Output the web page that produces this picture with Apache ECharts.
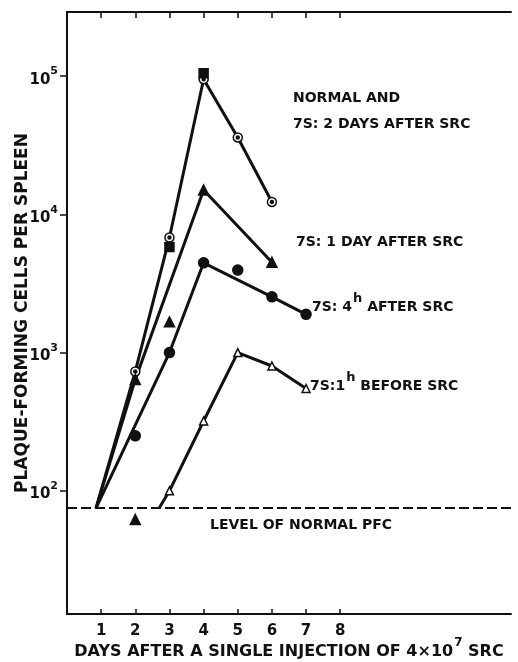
<!DOCTYPE html>
<html>
<head>
<meta charset="utf-8">
<script src="https://cdn.jsdelivr.net/npm/echarts@6/dist/echarts.min.js"></script>
<style>
  html, body { margin: 0; padding: 0; background: #fff; }
  #chart { width: 518px; height: 662px; }
</style>
</head>
<body>
<div id="chart"></div>
<script>
// values (days, plaque-forming cells per spleen)
const dayTicks = [1, 2, 3, 4, 5, 6, 7, 8];
const decadeTicks = [100, 1000, 10000, 100000];
const normalLevel = 75;

const days2d = [0.85, 2, 3, 4, 5, 6];
const vals2d = [75, 730, 6800, 95000, 36000, 12300];
const daysNormal = [3, 4];
const valsNormal = [5800, 105000];

const days1d = [0.85, 2, 4, 6];
const vals1d = [75, 640, 15000, 4500];
const days1dOff = [2, 3];
const vals1dOff = [62, 1670];

const days4h = [0.85, 3, 4, 6, 7];
const vals4h = [75, 1000, 4460, 2530, 1890];
const days4hOff = [2, 5];
const vals4hOff = [250, 3950];

const days1h = [2.7, 3, 4, 5, 6, 7];
const vals1h = [75, 100, 320, 1000, 800, 550];

const pts = (xs, ys) => xs.map((x, i) => ({
  value: [x, ys[i]],
  symbol: ys[i] === normalLevel ? "none" : undefined,
}));

const chart = echarts.init(document.getElementById("chart"));
const ink = "#111";
const font = "DejaVu Sans";

const lineSeries = (data, symbol, size, fill) => ({
  type: "line",
  data: data,
  symbol: symbol,
  symbolSize: size,
  showSymbol: true,
  lineStyle: { color: ink, width: 3 },
  itemStyle: { color: fill, borderColor: ink, borderWidth: 1.5, opacity: 1 },
  z: 3,
  animation: false,
});

const scatterSeries = (data, symbol, size, fill) => ({
  type: "scatter",
  data: data,
  symbol: symbol,
  symbolSize: size,
  itemStyle: { color: fill, borderColor: ink, borderWidth: 1.5, opacity: 1 },
  z: 4,
  animation: false,
});

const rich = {
  t: { fontSize: 14, fontWeight: "bold", fontFamily: font, fill: ink, verticalAlign: "bottom", lineHeight: 22 },
  s: { fontSize: 13, fontWeight: "bold", fontFamily: font, fill: ink, verticalAlign: "bottom", lineHeight: 22, padding: [0, 0, 9, 1] },
};

const labelText = (x, y, text) => ({
  type: "text",
  left: x,
  top: y,
  style: { text: text, rich: rich },
});

const option = {
  backgroundColor: "#fff",
  grid: { left: 67, right: 7, top: 12, bottom: 48, outerBoundsMode: "none", containLabel: false },
  xAxis: [
    {
      type: "value",
      min: 0,
      max: 13,
      position: "bottom",
      name: "{t|DAYS AFTER A SINGLE INJECTION OF 4×10}{s|7}{t| SRC}",
      nameLocation: "middle",
      nameGap: 24,
      nameMoveOverlap: false,
      nameTextStyle: {
        rich: {
          t: { fontSize: 16, fontWeight: "bold", fontFamily: font, color: ink, verticalAlign: "bottom", lineHeight: 22 },
          s: { fontSize: 12, fontWeight: "bold", fontFamily: font, color: ink, verticalAlign: "bottom", lineHeight: 22, padding: [0, 0, 11, 1] },
        },
      },
      axisLine: { lineStyle: { color: ink, width: 2 } },
      axisTick: { inside: true, length: 5, customValues: dayTicks, lineStyle: { color: ink, width: 1.5 } },
      axisLabel: { customValues: dayTicks, color: ink, fontSize: 15, fontWeight: "bold", fontFamily: font, margin: 10 },
      splitLine: { show: false },
    },
    {
      type: "value",
      min: 0,
      max: 13,
      position: "top",
      axisLine: { lineStyle: { color: ink, width: 2 } },
      axisTick: { inside: true, length: 6, customValues: dayTicks, lineStyle: { color: ink, width: 1.5 } },
      axisLabel: { show: false },
      splitLine: { show: false },
    },
  ],
  yAxis: [
    {
      type: "log",
      min: 12.85,
      max: 291000,
      position: "left",
      name: "PLAQUE-FORMING CELLS PER SPLEEN",
      nameLocation: "middle",
      nameRotate: 90,
      nameGap: 36,
      nameMoveOverlap: false,
      nameTextStyle: { color: ink, fontSize: 17, fontWeight: "bold", fontFamily: font },
      axisLine: { lineStyle: { color: ink, width: 2 } },
      axisTick: { inside: false, length: 7, customValues: decadeTicks, lineStyle: { color: ink, width: 1.5 } },
      axisLabel: {
        customValues: decadeTicks,
        margin: 9,
        formatter: (v) => "{b|10}{s|" + Math.round(Math.log10(v)) + "}",
        rich: {
          b: { fontSize: 15, fontWeight: "bold", fontFamily: font, color: ink, verticalAlign: "bottom", lineHeight: 22 },
          s: { fontSize: 11, fontWeight: "bold", fontFamily: font, color: ink, verticalAlign: "bottom", lineHeight: 22, padding: [0, 0, 10, 0] },
        },
      },
      splitLine: { show: false },
    },
    {
      type: "log",
      min: 12.85,
      max: 291000,
      position: "right",
      axisLine: { lineStyle: { color: ink, width: 2 } },
      axisTick: { inside: true, length: 6, customValues: decadeTicks, lineStyle: { color: ink, width: 1.5 } },
      axisLabel: { show: false },
      splitLine: { show: false },
    },
  ],
  series: [
    Object.assign(lineSeries(pts(days2d, vals2d), "circle", 9, "#fff"), {
      markLine: {
        silent: true,
        symbol: "none",
        label: { show: false },
        lineStyle: { color: ink, width: 2, type: [10, 4] },
        data: [{ yAxis: normalLevel }],
      },
    }),
    scatterSeries(pts(days2d, vals2d), "circle", 3, ink),
    scatterSeries(pts(daysNormal, valsNormal), "rect", 9, ink),
    lineSeries(pts(days1d, vals1d), "triangle", 10, ink),
    scatterSeries(pts(days1dOff, vals1dOff), "triangle", 10, ink),
    lineSeries(pts(days4h, vals4h), "circle", 10, ink),
    scatterSeries(pts(days4hOff, vals4hOff), "circle", 10, ink),
    lineSeries(pts(days1h, vals1h), "triangle", 8, "#fff"),
  ],
  graphic: [
    labelText(293, 91, "{t|NORMAL AND}"),
    labelText(293, 117, "{t|7S: 2 DAYS AFTER SRC}"),
    labelText(296, 235, "{t|7S: 1 DAY AFTER SRC}"),
    labelText(312, 292, "{t|7S: 4}{s|h}{t| AFTER SRC}"),
    labelText(310, 371, "{t|7S:1}{s|h}{t| BEFORE SRC}"),
    labelText(210, 518, "{t|LEVEL OF NORMAL PFC}"),
  ],
};

chart.setOption(option);
</script>
</body>
</html>
